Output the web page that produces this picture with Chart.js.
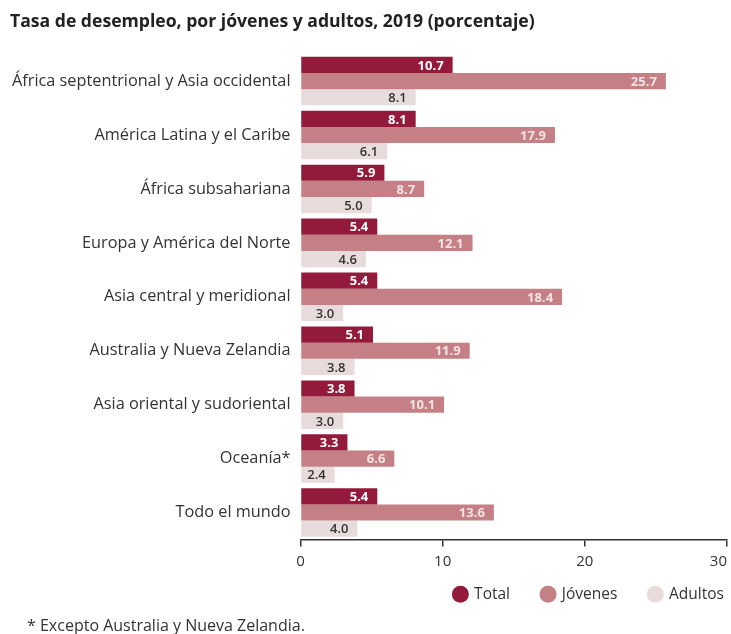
<!DOCTYPE html>
<html lang="es">
<head>
<meta charset="utf-8">
<title>Tasa de desempleo, por jóvenes y adultos, 2019</title>
<script src="https://cdn.jsdelivr.net/npm/chart.js@4/dist/chart.umd.min.js"></script>
<style>
  html, body { margin: 0; padding: 0; background: #fff; }
  #wrap { position: relative; width: 731px; height: 634px; overflow: hidden; }
  #chart { position: absolute; left: 0; top: 0; }
  #footnote {
    position: absolute; left: 27px; top: 614px;
    font: 16px/22px "Open Sans", sans-serif; color: #333;
  }
</style>
</head>
<body>
<div id="wrap">
  <canvas id="chart" width="731" height="634"></canvas>
  <div id="footnote">* Excepto Australia y Nueva Zelandia.</div>
</div>
<script>
/* ── Data ─────────────────────────────────────────────── */
const regions = [
  'África septentrional y Asia occidental',
  'América Latina y el Caribe',
  'África subsahariana',
  'Europa y América del Norte',
  'Asia central y meridional',
  'Australia y Nueva Zelandia',
  'Asia oriental y sudoriental',
  'Oceanía*',
  'Todo el mundo',
];
const totalRate   = [10.7, 8.1, 5.9, 5.4, 5.4, 5.1, 3.8, 3.3, 5.4];
const youthRate   = [25.7, 17.9, 8.7, 12.1, 18.4, 11.9, 10.1, 6.6, 13.6];
const adultRate   = [8.1, 6.1, 5.0, 4.6, 3.0, 3.8, 3.0, 2.4, 4.0];
const xTicks      = [0, 10, 20, 30];

const FONT = '"Open Sans", sans-serif';
const INK  = '#333';
const LEGEND_LIFT = 22;   // legend rows sit closer to the axis than its padding would give

/* ── Value labels inside the bar ends ─────────────────── */
const barLabels = {
  id: 'barLabels',
  afterDatasetsDraw(chart) {
    const { ctx } = chart;
    ctx.save();
    ctx.textAlign = 'right';
    ctx.textBaseline = 'middle';
    chart.data.datasets.forEach((ds, i) => {
      const meta = chart.getDatasetMeta(i);
      ctx.fillStyle = ds.labelColor;
      ctx.font = ds.labelFont;
      meta.data.forEach((bar, j) => {
        ctx.fillText(ds.data[j].toFixed(1), bar.x - 9, bar.y + 1);
      });
    });
    ctx.restore();
  },
};

/* ── Move the legend up after layout ──────────────────── */
const legendLift = {
  id: 'legendLift',
  afterLayout(chart) {
    if (!chart.legend) return;
    chart.legend.top -= LEGEND_LIFT;
    chart.legend.bottom -= LEGEND_LIFT;
  },
};

new Chart(document.getElementById('chart'), {
  type: 'bar',
  data: {
    labels: regions,
    datasets: [
      {
        label: 'Total',
        data: totalRate,
        backgroundColor: '#931a3a',
        labelColor: '#fff',
        labelFont: `bold 13px ${FONT}`,
      },
      {
        label: 'Jóvenes',
        data: youthRate,
        backgroundColor: '#c48085',
        labelColor: '#f4e3e3',
        labelFont: `bold 13px ${FONT}`,
      },
      {
        label: 'Adultos',
        data: adultRate,
        backgroundColor: '#e7dbdb',
        labelColor: INK,
        labelFont: `600 13px ${FONT}`,
      },
    ],
  },
  options: {
    indexAxis: 'y',
    responsive: false,
    animation: false,
    categoryPercentage: 0.9,
    barPercentage: 1.0,
    // negative right padding lets the legend sit close to the edge
    layout: { padding: { left: 10, right: -25, top: 6, bottom: 0 } },
    plugins: {
      title: {
        display: true,
        text: 'Tasa de desempleo, por jóvenes y adultos, 2019 (porcentaje)',
        align: 'start',
        color: '#222',
        font: { family: FONT, size: 17.6, weight: 'bold' },
        padding: { top: 5, bottom: 22 },
      },
      legend: {
        position: 'bottom',
        align: 'end',
        labels: {
          usePointStyle: true,
          pointStyle: 'circle',
          boxWidth: 12,
          boxHeight: 12,
          padding: 32,
          color: INK,
          font: { family: FONT, size: 15.5 },
        },
      },
      tooltip: { enabled: false },
    },
    scales: {
      x: {
        min: 0,
        max: 30,
        afterBuildTicks: axis => { axis.ticks = xTicks.map(v => ({ value: v })); },
        afterFit: axis => { axis.paddingRight = 4; },
        border: { display: true, color: INK, width: 1.5 },
        grid: {
          drawOnChartArea: false,
          drawTicks: true,
          tickLength: 7,
          color: INK,
          lineWidth: 1.5,
        },
        ticks: {
          color: INK,
          font: { family: FONT, size: 15 },
          padding: 6,
          // pull the last label in so it ends at its tick
          callback: (v, i, all) => (i === all.length - 1 ? v + '\u2007\u2007' : v),
        },
      },
      y: {
        border: { display: false },
        grid: { display: false },
        ticks: { color: INK, font: { family: FONT, size: 16.3 }, padding: 2 },
      },
    },
  },
  plugins: [barLabels, legendLift],
});
</script>
</body>
</html>
